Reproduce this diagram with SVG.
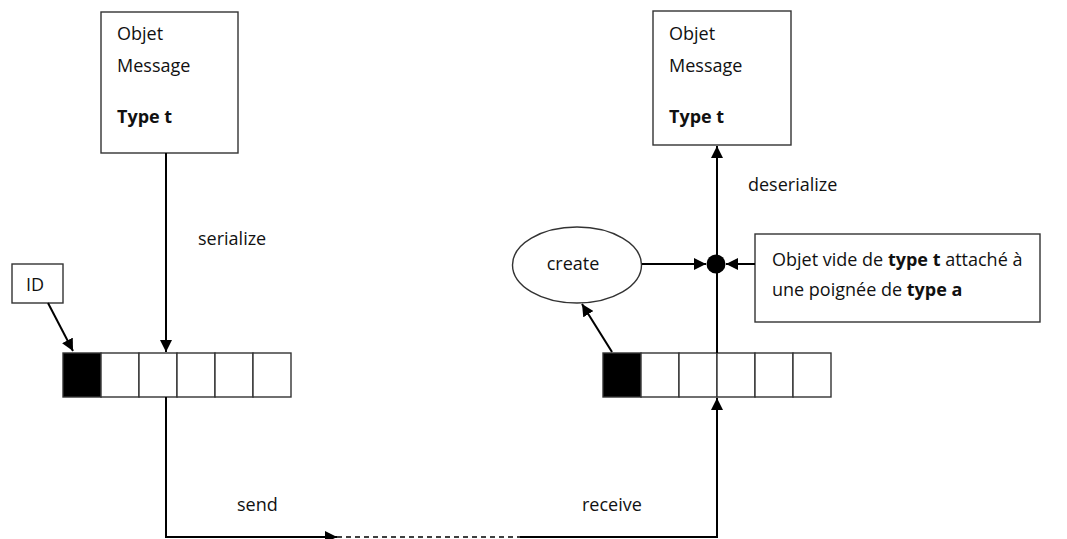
<svg xmlns="http://www.w3.org/2000/svg" width="1067" height="539" viewBox="0 0 1067 539">
<style>
text{font-family:"Open Sans","Liberation Sans",sans-serif;font-size:18px;fill:#111}
.b{font-weight:bold}
.box{fill:#fff;stroke:#333;stroke-width:1.4}
.cell{fill:#fff;stroke:#333;stroke-width:1.4}
.blk{fill:#000;stroke:#333;stroke-width:1.4}
.ln{fill:none;stroke:#000;stroke-width:2}
</style>
<defs>
<marker id="ah" viewBox="0 0 10 10" refX="10" refY="5" markerWidth="6" markerHeight="6" orient="auto" markerUnits="strokeWidth">
<path d="M0,0 L10,5 L0,10 z" fill="#000"/>
</marker>
</defs>
<g id="msgLeft">
<rect class="box" x="101" y="12" width="137" height="141"/>
<text x="117" y="40">Objet</text>
<text x="117" y="72">Message</text>
<text x="117" y="123" class="b">Type t</text>
</g>
<g id="msgRight">
<rect class="box" x="653" y="11" width="138" height="134"/>
<text x="669" y="40">Objet</text>
<text x="669" y="72">Message</text>
<text x="669" y="123" class="b">Type t</text>
</g>
<g id="idBox">
<rect class="box" x="12" y="264" width="51" height="39"/>
<text x="26" y="291">ID</text>
</g>
<g id="bufferLeft">
<rect class="blk" x="63" y="353" width="38" height="44"/>
<rect class="cell" x="101" y="353" width="38" height="44"/>
<rect class="cell" x="139" y="353" width="38" height="44"/>
<rect class="cell" x="177" y="353" width="38" height="44"/>
<rect class="cell" x="215" y="353" width="38" height="44"/>
<rect class="cell" x="253" y="353" width="38" height="44"/>
</g>
<g id="bufferRight">
<rect class="blk" x="603" y="353" width="38" height="44"/>
<rect class="cell" x="641" y="353" width="38" height="44"/>
<rect class="cell" x="679" y="353" width="38" height="44"/>
<rect class="cell" x="717" y="353" width="38" height="44"/>
<rect class="cell" x="755" y="353" width="38" height="44"/>
<rect class="cell" x="793" y="353" width="38" height="44"/>
</g>
<g id="create">
<ellipse cx="577" cy="265" rx="64.5" ry="38" fill="#fff" stroke="#333" stroke-width="1.4"/>
<text x="573" y="270" text-anchor="middle">create</text>
</g>
<g id="emptyObj">
<rect class="box" x="755" y="234" width="285" height="88"/>
<text x="772" y="266">Objet vide de <tspan class="b">type t</tspan> attaché à</text>
<text x="772" y="296">une poignée de <tspan class="b">type a</tspan></text>
</g>
<g id="junction">
<circle cx="716" cy="264" r="9.5" fill="#000"/>
</g>
<g id="connectors">
<line class="ln" x1="166" y1="153" x2="166" y2="352" marker-end="url(#ah)"/>
<line class="ln" x1="48" y1="303" x2="73" y2="351" marker-end="url(#ah)"/>
<path class="ln" d="M166 397 V537 H337" marker-end="url(#ah)"/>
<line x1="337" y1="537" x2="520" y2="537" stroke="#000" stroke-width="1.5" stroke-dasharray="5,4"/>
<path class="ln" d="M520 537 H717 V398" marker-end="url(#ah)"/>
<line class="ln" x1="717" y1="353" x2="717" y2="146" marker-end="url(#ah)"/>
<line class="ln" x1="612" y1="352" x2="582" y2="304" marker-end="url(#ah)"/>
<line class="ln" x1="642" y1="264" x2="706" y2="264" marker-end="url(#ah)"/>
<line class="ln" x1="755" y1="264" x2="726" y2="264" marker-end="url(#ah)"/>
</g>
<g id="labels">
<text x="198" y="245">serialize</text>
<text x="748" y="191">deserialize</text>
<text x="237" y="511">send</text>
<text x="582" y="511">receive</text>
</g>
</svg>
